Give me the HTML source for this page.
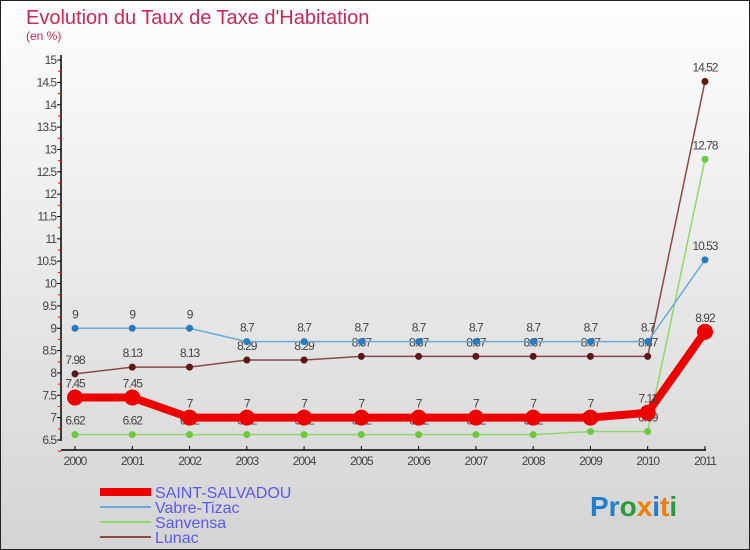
<!DOCTYPE html>
<html><head><meta charset="utf-8"><style>
body{margin:0;width:750px;height:550px;overflow:hidden;font-family:"Liberation Sans",sans-serif}
#wrap{position:absolute;left:0;top:0;width:748px;height:548px;border:1px solid #222;background:linear-gradient(#fefefe,#d4d4d4)}
</style></head><body>
<div id="wrap">
<svg id="chart" width="750" height="550" style="position:absolute;left:-1px;top:-1px">
<text x="26" y="24" font-size="20" fill="#c8285a">Evolution du Taux de Taxe d'Habitation</text>
<text x="26" y="40" font-size="12" fill="#c8285a">(en %)</text>
<text x="590" y="516" font-size="28" font-weight="bold"><tspan fill="#1e7fd0">Pr</tspan><tspan fill="#2a9a3a">o</tspan><tspan fill="#f07d00">x</tspan><tspan fill="#1e7fd0">i</tspan><tspan fill="#f07d00">t</tspan><tspan fill="#2a9a3a">i</tspan></text>
</svg>
</div>
<script>
const years=[2000,2001,2002,2003,2004,2005,2006,2007,2008,2009,2010,2011];
const yTicks=[6.5,7,7.5,8,8.5,9,9.5,10,10.5,11,11.5,12,12.5,13,13.5,14,14.5,15];
const saint=[7.45,7.45,7,7,7,7,7,7,7,7,7.11,8.92];
const vabre=[9,9,9,8.7,8.7,8.7,8.7,8.7,8.7,8.7,8.7,10.53];
const sanvensa=[6.62,6.62,6.62,6.62,6.62,6.62,6.62,6.62,6.62,6.69,6.69,12.78];
const lunac=[7.98,8.13,8.13,8.29,8.29,8.37,8.37,8.37,8.37,8.37,8.37,14.52];
const svg=document.getElementById('chart');const NS='http://www.w3.org/2000/svg';
const xS=i=>75+i*57.27;const yS=v=>440-(v-6.5)*44.7;
function mk(t,a,p){const e=document.createElementNS(NS,t);for(const k in a)e.setAttribute(k,a[k]);(p||svg).appendChild(e);return e;}
let ax=mk('line',{x1:61,y1:55,x2:61,y2:441,stroke:'#000','stroke-width':1.5});


yTicks.forEach(v=>{const y=yS(v);mk('line',{x1:57,x2:61,y1:y,y2:y,stroke:'#000'});
 mk('line',{x1:58,x2:61,y1:y+11.2,y2:y+11.2,stroke:'#e00'});
 const t=mk('text',{x:56,y:y+4,'font-size':12,fill:'#444','text-anchor':'end','letter-spacing':'-1'});t.textContent=v;
 
 });
let xa=mk('line',{x1:61,y1:450,x2:706,y2:450,stroke:'#000','stroke-width':1.5});


years.forEach((yr,i)=>{const x=xS(i);mk('line',{x1:x,x2:x,y1:446,y2:450,stroke:'#000'});
 const t=mk('text',{x:x,y:465,'font-size':12,fill:'#444','text-anchor':'middle','letter-spacing':'-1'});t.textContent=yr;
 
 });
const series=[[sanvensa,'#8fd86a','#6cc83c',1.5,3.5,'sanvensa'],[lunac,'#8a4a4a','#5a1818',1.5,3.5,'lunac'],[vabre,'#6aaad8','#2a7ac0',1.5,3.5,'vabre-tizac'],[saint,'#ee0000','#ee0000',8,8,'saint-salvadou']];
series.forEach(([d,lc,pc,w,r,n])=>{const g=mk('g',{});
 
 
 mk('polyline',{points:d.map((v,i)=>xS(i)+','+yS(v)).join(' '),fill:'none',stroke:lc,'stroke-width':w},g);
 d.forEach((v,i)=>{const c=mk('circle',{cx:xS(i),cy:yS(v),r:r,fill:pc},g);
  
  
  const t=mk('text',{x:xS(i),y:yS(v)-10,'font-size':12,fill:'#444','text-anchor':'middle','letter-spacing':'-1'},g);t.textContent=v;});});
const leg=[['SAINT-SALVADOU','#ee0000',8],['Vabre-Tizac','#6aaad8',2],['Sanvensa','#8fd86a',2],['Lunac','#8a4a4a',2]];
leg.forEach(([n,c,w],i)=>{const y=492+i*15;const g=mk('g',{});
 
 
 mk('line',{x1:100,x2:151,y1:y,y2:y,stroke:c,'stroke-width':w},g);
 const t=mk('text',{x:155,y:y+6,'font-size':16,fill:'#5a5aee'},g);t.textContent=n;});
</script>
</body></html>
